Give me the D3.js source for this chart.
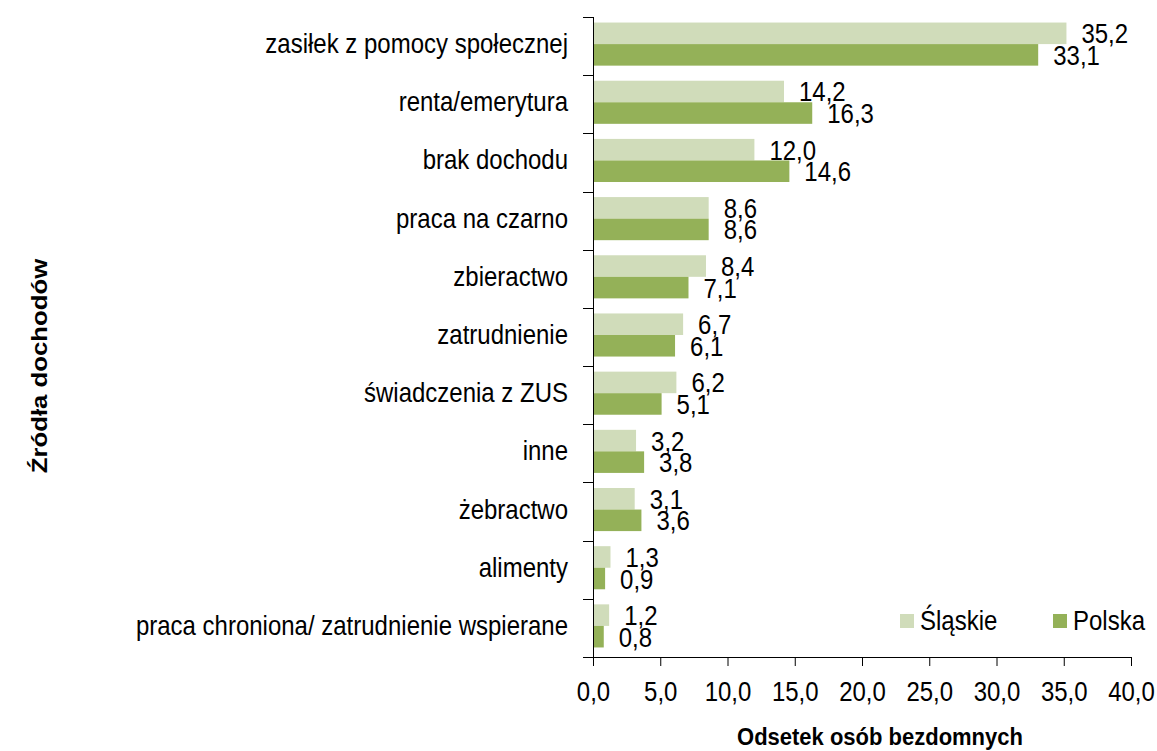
<!DOCTYPE html>
<html><head><meta charset="utf-8">
<script src="https://cdn.jsdelivr.net/npm/d3@7"></script>
<style>
body{margin:0;background:#fff;}
text{font-family:"Liberation Sans Narrow","Arial Narrow",sans-serif;fill:#000;}
</style></head>
<body><svg id="c" width="1157" height="751"></svg>
<script>
const categories = ["zasiłek z pomocy społecznej","renta/emerytura","brak dochodu","praca na czarno","zbieractwo","zatrudnienie","świadczenia z ZUS","inne","żebractwo","alimenty","praca chroniona/ zatrudnienie wspierane"];
const slaskie = [35.2,14.2,12.0,8.6,8.4,6.7,6.2,3.2,3.1,1.3,1.2];
const polska  = [33.1,16.3,14.6,8.6,7.1,6.1,5.1,3.8,3.6,0.9,0.8];
const seriesNames = ["Śląskie","Polska"];
const xTicks = [0,5,10,15,20,25,30,35,40];
const colors = ["#d0dcba","#94b158"];

const svg = d3.select("#c");
const L=593,R=1131,T=17,B=657;
const x = d3.scaleLinear().domain([0,40]).range([L,R]);
const y = d3.scaleBand().domain(categories).range([T,B]).paddingInner(0).paddingOuter(0);
const inner = d3.scaleBand().domain([0,1]).range([-2,y.bandwidth()-2]).paddingOuter(0.35).paddingInner(0);
const fmt = d => d.toFixed(1).replace(".",",");
const FS = 24, SY = 1.12;

const series=[slaskie,polska];
series.forEach((vals,si)=>{
  const g=svg.append("g");
  g.selectAll("rect").data(vals).join("rect")
    .attr("x",x(0)).attr("y",(d,i)=>y(categories[i])+inner(si))
    .attr("width",d=>x(d)-x(0)).attr("height",inner.bandwidth())
    .attr("fill",colors[si]);
  g.selectAll("text").data(vals).join("text")
    .attr("transform",(d,i)=>`translate(${x(d)+15},${y(categories[i])+inner(si)+inner.bandwidth()/2+10}) scale(1,${SY})`)
    .style("font-size",FS+"px").text(fmt);
});

// x axis
const xa = svg.append("g").attr("transform",`translate(0,${B})`)
  .call(d3.axisBottom(x).tickValues(xTicks).tickFormat(fmt).tickSize(9).tickPadding(14));
xa.select(".domain").attr("stroke","#000").attr("d",`M${L},0.5H${R}`);
xa.selectAll(".tick line").attr("stroke","#000");
xa.selectAll(".tick text").attr("y",null).attr("dy",null)
  .attr("transform",`translate(0,44) scale(1,${SY})`)
  .style("font-size",FS+"px").attr("font-family",null);

// y axis
const ya = svg.append("g").attr("transform",`translate(${L},0)`)
  .call(d3.axisLeft(y).tickSize(0).tickPadding(25));
ya.select(".domain").attr("stroke","#000").attr("d",`M0.5,${T}V${B}`);
ya.selectAll(".tick text").attr("x",null).attr("dy",null)
  .attr("transform",`translate(-25,7) scale(1,${SY})`)
  .style("font-size",FS+"px").attr("font-family",null);
const bounds = categories.map(c=>y(c)).concat([B]);
svg.append("g").selectAll("line").data(bounds).join("line")
  .attr("x1",L-10).attr("x2",L).attr("y1",d=>Math.round(d)+0.5).attr("y2",d=>Math.round(d)+0.5)
  .attr("stroke","#000");

// titles
svg.append("text").attr("transform",`translate(880,745) scale(1,${SY})`).attr("text-anchor","middle")
  .style("font-size","22px").style("font-weight","bold").text("Odsetek osób bezdomnych");
svg.append("text").attr("transform",`translate(47,366) scale(1,1.17) rotate(-90)`).attr("text-anchor","middle")
  .style("font-size","22px").style("font-weight","bold").text("Źródła dochodów");

// legend
const lg = svg.append("g");
const lx=[900,1053];
seriesNames.forEach((n,i)=>{
  lg.append("rect").attr("x",lx[i]).attr("y",614).attr("width",14).attr("height",14).attr("fill",colors[i]);
  lg.append("text").attr("transform",`translate(${lx[i]+20},630) scale(1,${SY})`).style("font-size",FS+"px").text(n);
});
</script></body></html>
